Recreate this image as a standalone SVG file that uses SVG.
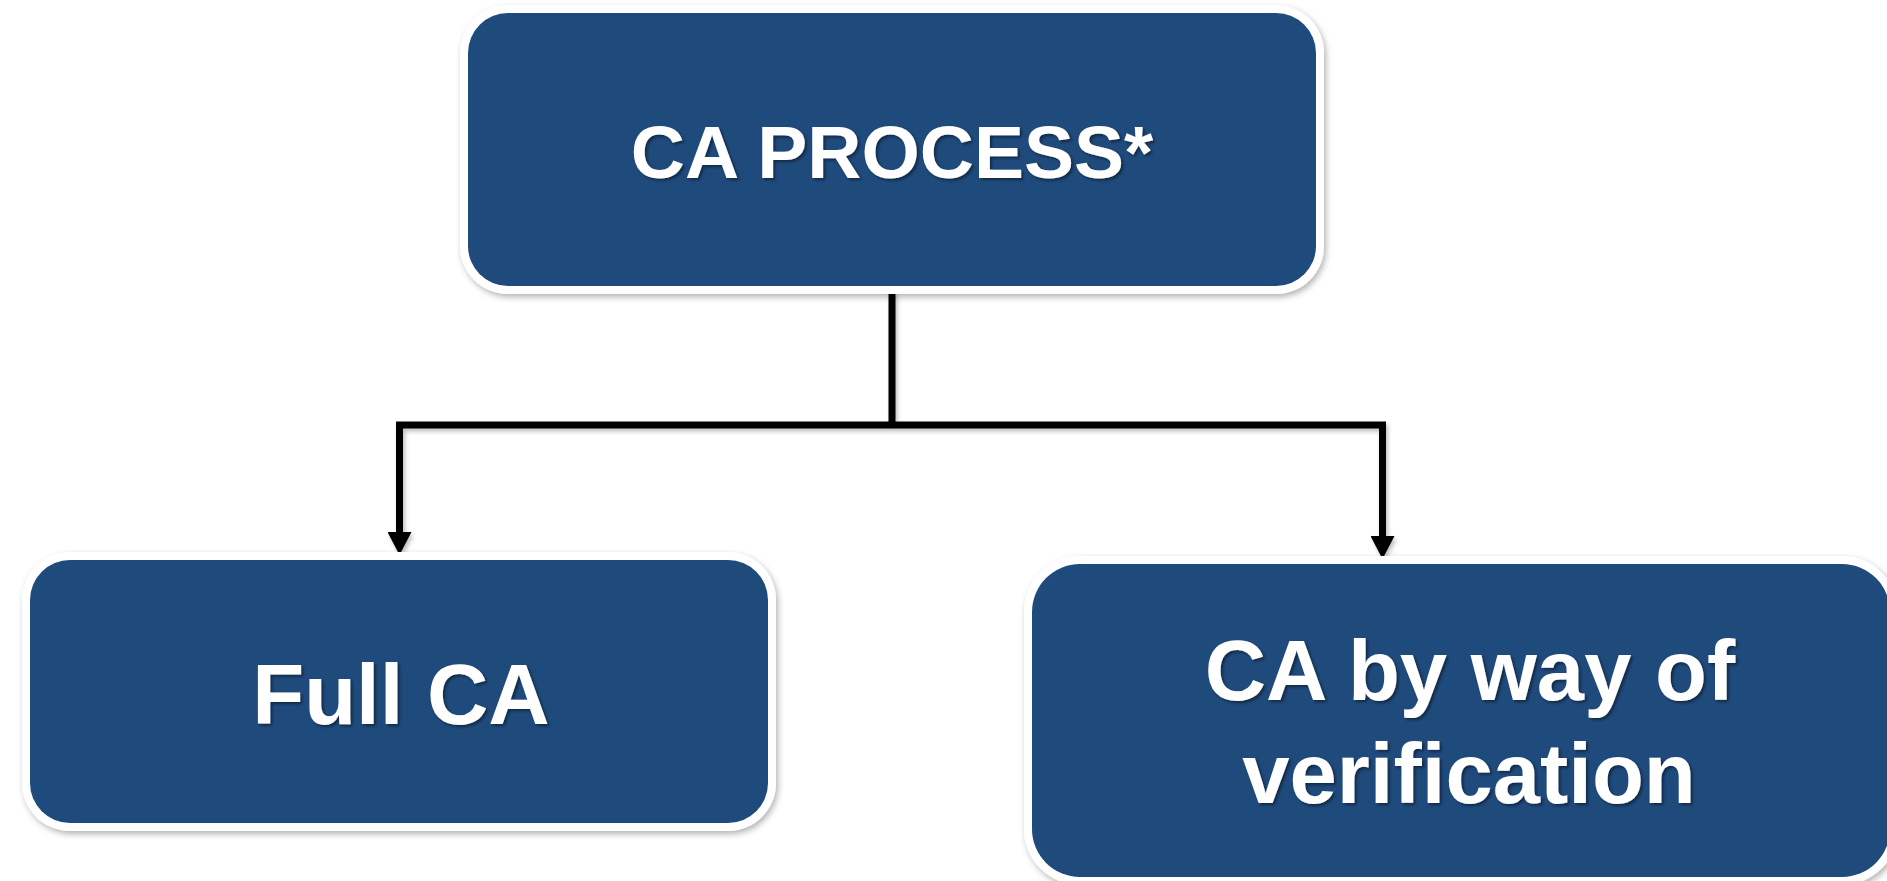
<svg xmlns="http://www.w3.org/2000/svg" width="1887" height="881" viewBox="0 0 1887 881">
<style>
.frame{fill:#ffffff;}
.box{fill:#1F4A7C;}
.lbl{font-family:"Liberation Sans",Arial,sans-serif;font-weight:bold;fill:#ffffff;text-anchor:middle;}
.conn{stroke:#000000;stroke-width:7;fill:none;}
</style>
<defs>
<filter id="sh" x="-5%" y="-5%" width="110%" height="115%">
<feDropShadow dx="2" dy="3" stdDeviation="3" flood-color="#000000" flood-opacity="0.3"/>
</filter>
<filter id="tsh" x="-5%" y="-10%" width="110%" height="130%">
<feDropShadow dx="2" dy="2" stdDeviation="1.5" flood-color="#000000" flood-opacity="0.45"/>
</filter>
<filter id="lsh" x="-20%" y="-20%" width="140%" height="140%">
<feDropShadow dx="2" dy="3" stdDeviation="2" flood-color="#000000" flood-opacity="0.25"/>
</filter>
<marker id="arr" markerUnits="userSpaceOnUse" markerWidth="24" markerHeight="24" refX="0" refY="12" orient="auto" viewBox="0 0 24 24">
<path d="M0,0 L23,12 L0,24 Z" fill="#000000"/>
</marker>
</defs>
<g id="connectors" filter="url(#lsh)">
<path class="conn" d="M892,291 V425"/>
<path class="conn" d="M396,425 H1386"/>
<path class="conn" d="M399.5,422 V532" marker-end="url(#arr)"/>
<path class="conn" d="M1382.5,422 V536" marker-end="url(#arr)"/>
</g>
<g id="node-ca-process">
<rect class="frame" x="460" y="5" width="864" height="289" rx="48" ry="48" filter="url(#sh)"/>
<rect class="box" x="468" y="13" width="848" height="273" rx="40" ry="40"/>
<text class="lbl" x="892" y="178" font-size="75" filter="url(#tsh)">CA PROCESS*</text>
</g>
<g id="node-full-ca">
<rect class="frame" x="22" y="552" width="754" height="279" rx="48" ry="48" filter="url(#sh)"/>
<rect class="box" x="30" y="560" width="738" height="263" rx="40" ry="40"/>
<text class="lbl" x="401" y="724" font-size="85" filter="url(#tsh)">Full CA</text>
</g>
<g id="node-ca-verification">
<rect class="frame" x="1024" y="556" width="874" height="329" rx="56" ry="56" filter="url(#sh)"/>
<rect class="box" x="1032" y="564" width="858" height="313" rx="48" ry="48"/>
<text class="lbl" x="1470" y="700" font-size="85" filter="url(#tsh)">CA by way of</text>
<text class="lbl" x="1469" y="803" font-size="85" filter="url(#tsh)">verification</text>
</g>
</svg>
